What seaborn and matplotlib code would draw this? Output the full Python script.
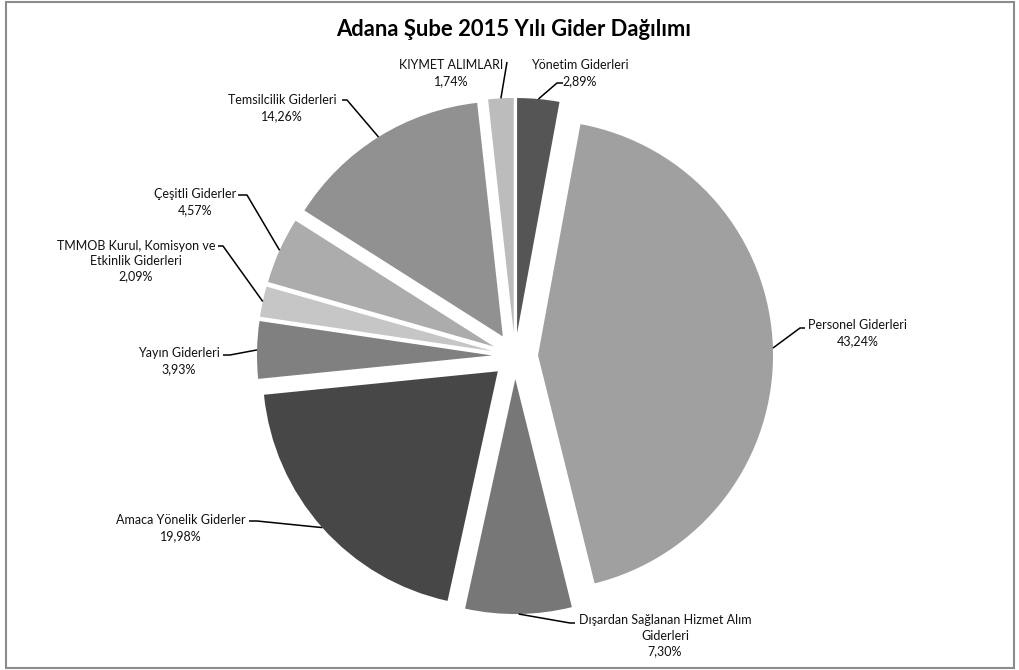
import numpy as np
import seaborn as sns
import matplotlib.pyplot as plt
from matplotlib.patches import Rectangle

sns.set_theme(style="white")
plt.rcParams['font.family'] = ['Lato', 'DejaVu Sans']

categories = ["Yönetim Giderleri", "Personel Giderleri", "Dışardan Sağlanan Hizmet Alım\nGiderleri",
              "Amaca Yönelik Giderler", "Yayın Giderleri", "TMMOB Kurul, Komisyon ve\nEtkinlik Giderleri",
              "Çeşitli Giderler", "Temsilcilik Giderleri", "KIYMET ALIMLARI"]
shares = [2.89, 43.24, 7.30, 19.98, 3.93, 2.09, 4.57, 14.26, 1.74]
colors = ["#555555", "#a0a0a0", "#777777", "#474747", "#808080",
          "#c6c6c6", "#acacac", "#919191", "#bcbcbc"]

# layout in pixels: pie centre and radius, then per label: text centre, elbow, end of short horizontal
CX, CY, R = 515, 356, 235
label_pos = [(580, 73), (858, 333), (665, 636), (181, 528), (179, 361),
             (136, 261), (195, 202), (282, 108), (451, 73)]
elbows = [(557, 83), (800, 328), (570, 623), (257, 521), (230, 355),
          (223, 246), (247, 195), (347, 100), (507, 62)]
ends = [(563, 83), (805, 328), (575, 623), (249, 521), (223, 355),
        (218, 246), (238, 195), (342, 100), (507, 62)]


def px(x, y):
    return (x - CX) / R, (CY - y) / R


fig = plt.figure(figsize=(10.2, 6.7), dpi=100)
ax = fig.add_axes([0, 0, 1, 1])
wedges, _ = ax.pie(shares, colors=colors, explode=[0.098] * len(shares), startangle=90,
                   counterclock=False, radius=1, wedgeprops={'linewidth': 0})
ax.set_xlim(-CX / R, (1020 - CX) / R)
ax.set_ylim((CY - 670) / R, CY / R)
ax.set_aspect('equal')
ax.axis('off')

for w, name, val, tp, el, en in zip(wedges, categories, shares, label_pos, elbows, ends):
    mid = np.deg2rad((w.theta1 + w.theta2) / 2)
    ax0 = w.center[0] + w.r * np.cos(mid)
    ay0 = w.center[1] + w.r * np.sin(mid)
    ex, ey = px(*el)
    nx, ny = px(*en)
    ax.plot([ax0, ex, nx], [ay0, ey, ny], color='black', lw=1.1, solid_capstyle='butt')
    tx, ty = px(*tp)
    txt = f"{name}\n{val:.2f}%".replace('.', ',')
    ax.text(tx, ty, txt, ha='center', va='center', fontsize=9, linespacing=1.35,
            color='#111111')

fig.text(514 / 1020, 1 - 29 / 670, "Adana Şube 2015 Yılı Gider Dağılımı", ha='center', va='center',
         fontsize=15.8, fontweight='bold', color='black')
fig.patches.append(Rectangle((6 / 1020, 2 / 670), 1008 / 1020, 666 / 670, transform=fig.transFigure,
                             fill=False, edgecolor='#8c8c8c', lw=1.5))

fig.savefig('out.png', dpi=100)
